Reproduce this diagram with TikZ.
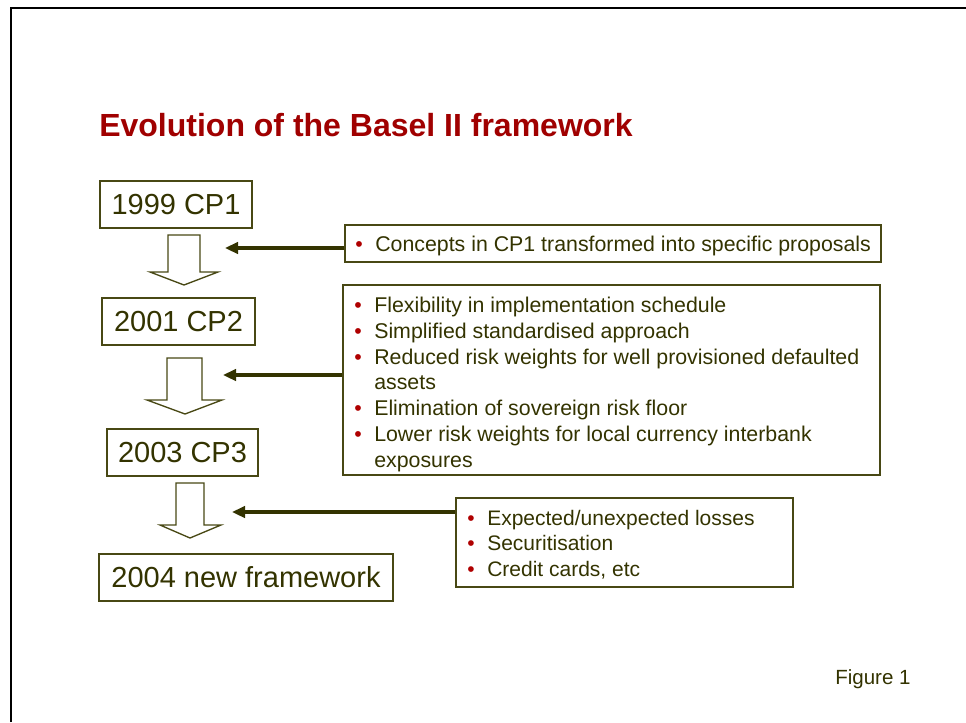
\documentclass[tikz,border=0pt]{standalone}
\usepackage{fontspec}
\setmainfont{Liberation Sans}
\usetikzlibrary{arrows.meta}

\definecolor{titlered}{RGB}{160,0,0}
\definecolor{bulletred}{RGB}{175,0,0}
\definecolor{olivetext}{RGB}{51,51,0}
\definecolor{oliveline}{RGB}{72,72,20}

% bullet with fixed hanging indent, and a line strut giving exact line pitch
\newcommand\bul{\makebox[15pt][l]{\color{bulletred}\textbullet}}
\newcommand\ind{\hspace*{15pt}}
\newcommand\ls{\rule[-5.78pt]{0pt}{19.28pt}}

\tikzset{
  stagebox/.style={draw=oliveline, line width=0.9pt, text=olivetext,
    font=\fontsize{21.75pt}{26pt}\selectfont, inner sep=0pt, minimum height=35.25pt},
  notebox/.style={draw=oliveline, line width=0.9pt, inner sep=0pt},
  notetext/.style={anchor=north west, inner sep=0pt, align=left, text=olivetext,
    font=\fontsize{15.75pt}{19.28pt}\selectfont},
  widetext/.style={notetext, font=\fontsize{16pt}{19.28pt}\selectfont},
  hollow/.style={draw=oliveline, line width=1pt, fill=white, line join=miter},
  conn/.style={draw=olivetext, line width=2.6pt,
    -{Triangle[length=9.75pt,width=8.5pt]}}
}

\begin{document}
\begin{tikzpicture}[x=0.75pt,y=-0.75pt]
\useasboundingbox (0,0) rectangle (966,722);

% page frame
\draw[line width=1.5pt] (11,722) -- (11,7.5) -- (966,7.5);

% title
\node[anchor=base west, inner sep=0pt, text=titlered,
      font=\fontsize{24pt}{28pt}\selectfont\bfseries] (title) at (99,136.5)
  {Evolution of the Basel II framework};

% consultation stages
\node[stagebox, minimum width=114pt]    (cp1) at (176,204.5)   {1999 CP1};
\node[stagebox, minimum width=114.75pt] (cp2) at (178.5,321.5) {2001 CP2};
\node[stagebox, minimum width=113.25pt] (cp3) at (182.5,452.5) {2003 CP3};
\node[stagebox, minimum width=220.5pt]  (nf)  at (246,577.5)   {2004 new framework};

% hollow down arrows between stages
\draw[hollow] (168,235) -- (200,235) -- (200,272) -- (218,272) -- (184,285)
  -- (150,272) -- (168,272) -- cycle;
\draw[hollow] (167,358) -- (202,358) -- (202,400) -- (222,400) -- (185,414)
  -- (147,400) -- (167,400) -- cycle;
\draw[hollow] (176,483) -- (204,483) -- (204,525) -- (221,525) -- (190,538)
  -- (160,525) -- (176,525) -- cycle;

% note boxes
\node[notebox, minimum width=402pt, minimum height=27.75pt]   (n1) at (613,243.5) {};
\node[notebox, minimum width=402.75pt, minimum height=142.5pt] (n2) at (611.5,380) {};
\node[notebox, minimum width=252.75pt, minimum height=66.75pt] (n3) at (624.5,542.5) {};

\node[widetext] (n1t) at (355,233.5)
  {\ls\bul Concepts in CP1 transformed into specific proposals};
\node[widetext] (n2t) at (354,294.5)
  {\ls\bul Flexibility in implementation schedule\\
   \ls\bul Simplified standardised approach\\
   \ls\bul Reduced risk weights for well provisioned defaulted\\
   \ls\ind assets\\
   \ls\bul Elimination of sovereign risk floor\\
   \ls\bul Lower risk weights for local currency interbank\\
   \ls\ind exposures};
\node[notetext] (n3t) at (467,507)
  {\ls\bul Expected/unexpected losses\\
   \ls\bul Securitisation\\
   \ls\bul Credit cards, etc};

% connectors from notes to the arrows
\coordinate (tip1) at (225,248);
\coordinate (tip2) at (223,375);
\coordinate (tip3) at (232,512);
\draw[conn] (n1.west |- tip1) -- (tip1);
\draw[conn] (n2.west |- tip2) -- (tip2);
\draw[conn] (n3.west |- tip3) -- (tip3);

% figure label
\node[anchor=base west, inner sep=0pt, text=olivetext,
      font=\fontsize{15.4pt}{18pt}\selectfont] (figlabel) at (835,684) {Figure 1};
\end{tikzpicture}
\end{document}
